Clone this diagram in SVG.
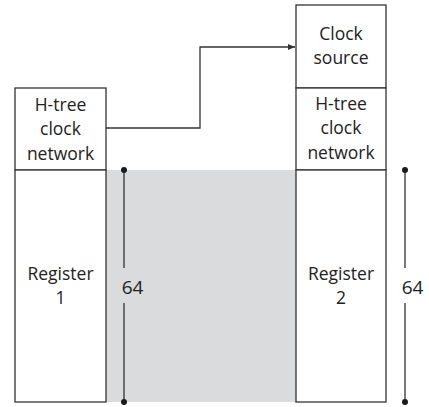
<svg xmlns="http://www.w3.org/2000/svg" width="429" height="407" viewBox="0 0 429 407">
<style>
.box{fill:#fff;stroke:#333;stroke-width:1.3}
.t{font-family:"Open Sans","Liberation Sans",sans-serif;font-size:17.5px;fill:#222;text-anchor:middle}
.n{font-size:19px}
.ln{stroke:#333;stroke-width:1.3;fill:none}
</style>
<defs>
<marker id="ah" markerWidth="8" markerHeight="8" refX="7" refY="4" orient="auto" markerUnits="userSpaceOnUse">
<path d="M0,1 L7,4 L0,7 Z" fill="#333"/>
</marker>
</defs>
<rect x="106" y="170" width="190" height="232" fill="#dadbdd"/>
<g id="htree1">
<rect class="box" x="15" y="88" width="91" height="82"/>
<text class="t" x="60.5" y="111">H-tree</text>
<text class="t" x="60.5" y="135">clock</text>
<text class="t" x="60.5" y="160">network</text>
</g>
<g id="register1">
<rect class="box" x="15" y="170" width="91" height="232"/>
<text class="t" x="60.5" y="280">Register</text>
<text class="t" x="60.5" y="304">1</text>
</g>
<g id="clocksource">
<rect class="box" x="296" y="5" width="90" height="83"/>
<text class="t" x="341" y="40">Clock</text>
<text class="t" x="341" y="64">source</text>
</g>
<g id="htree2">
<rect class="box" x="296" y="88" width="90" height="82"/>
<text class="t" x="341" y="110">H-tree</text>
<text class="t" x="341" y="134">clock</text>
<text class="t" x="341" y="159">network</text>
</g>
<g id="register2">
<rect class="box" x="296" y="170" width="90" height="232"/>
<text class="t" x="341" y="280">Register</text>
<text class="t" x="341" y="304">2</text>
</g>
<g id="connectors">
<path class="ln" d="M106,128 H200 V47 H295" marker-end="url(#ah)"/>
<path class="ln" d="M124,170 V268 M124,303 V402"/>
<circle cx="124" cy="170" r="3" fill="#1a1a1a"/>
<circle cx="124" cy="402" r="3" fill="#1a1a1a"/>
<text class="t n" x="132.5" y="294">64</text>
<path class="ln" d="M405,170 V268 M405,303 V402"/>
<circle cx="405" cy="170" r="3" fill="#1a1a1a"/>
<circle cx="405" cy="402" r="3" fill="#1a1a1a"/>
<text class="t n" x="412.5" y="294">64</text>
</g>
</svg>
